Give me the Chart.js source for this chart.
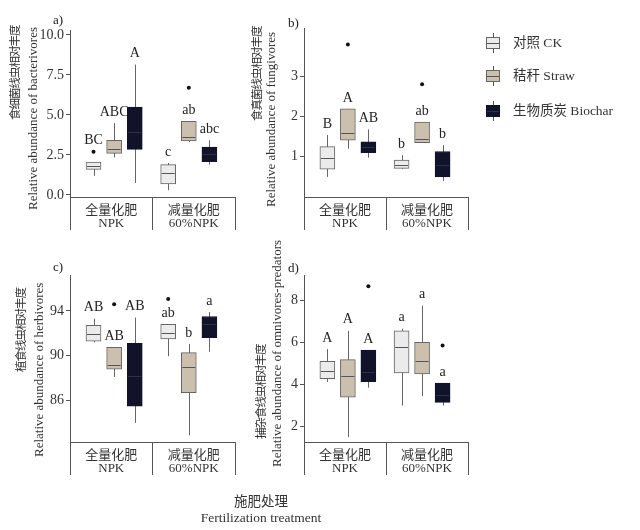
<!DOCTYPE html>
<html>
<head>
<meta charset="utf-8">
<script src="https://cdn.jsdelivr.net/npm/chart.js@4"></script>
<style>
  body { margin: 0; width: 640px; height: 530px; background: #fff; position: relative; overflow: hidden;
         font-family: 'Liberation Serif', 'Noto Sans CJK SC', serif; color: #222; }
  canvas { position: absolute; }
  .tag { position: absolute; font-size: 13px; line-height: 14px; }
  .yt { position: absolute; width: 16px; height: 240px; line-height: 16px; white-space: nowrap; text-align: center;
        writing-mode: vertical-rl; text-orientation: sideways; transform: rotate(180deg); color: #333; }
  .zh { font-size: 11.5px; letter-spacing: -1px; }
  .en { font-size: 13px; }
  .lg { position: absolute; left: 513px; font-size: 13.5px; line-height: 16px; color: #333; }
  .ic { position: absolute; left: 486px; width: 12px; height: 10px; border: 1px solid #666; }
  .ic::before, .ic::after { content: ''; position: absolute; left: 5.5px; width: 1px; height: 4px; background: #555; }
  .ic::before { top: -5px; }
  .ic::after { bottom: -5px; }
  .ic i { position: absolute; left: 0; right: 0; top: 4.5px; height: 1px; background: #555; }
  .bt { position: absolute; left: 160px; width: 202px; text-align: center; font-size: 13.5px; line-height: 15px; color: #333; }
</style>
</head>
<body>

<canvas id="pa" width="245" height="240" style="left:0;top:0"></canvas>
<canvas id="pb" width="240" height="240" style="left:240px;top:0"></canvas>
<canvas id="pc" width="245" height="240" style="left:0;top:240px"></canvas>
<canvas id="pd" width="240" height="240" style="left:240px;top:240px"></canvas>

<div class="tag" style="left:53px;top:13px">a)</div>
<div class="tag" style="left:288px;top:16px">b)</div>
<div class="tag" style="left:53px;top:260px">c)</div>
<div class="tag" style="left:288px;top:261px">d)</div>

<div class="yt zh" style="left:7px;top:-47px">食细菌线虫相对丰度</div>
<div class="yt en" style="left:25px;top:-1px">Relative abundance of bacterivores</div>
<div class="yt zh" style="left:249px;top:-46px">食真菌线虫相对丰度</div>
<div class="yt en" style="left:263px;top:-1px">Relative abundance of fungivores</div>
<div class="yt zh" style="left:13px;top:210px">植食线虫相对丰度</div>
<div class="yt en" style="left:31px;top:250px">Relative abundance of herbivores</div>
<div class="yt zh" style="left:253px;top:272px">捕杂食线虫相对丰度</div>
<div class="yt en" style="left:269px;top:233px">Relative abundance of omnivores-predators</div>

<span class="ic" style="top:37px;background:#ebebeb"><i></i></span>
<div class="lg" style="top:35px">对照 CK</div>
<span class="ic" style="top:70px;background:#cbbfae"><i></i></span>
<div class="lg" style="top:68px">秸秆 Straw</div>
<span class="ic" style="top:105px;background:#11132b;border-color:#11132b"><i style="background:#2c3048"></i></span>
<div class="lg" style="top:103px">生物质炭 Biochar</div>

<div class="bt" style="top:494px">施肥处理</div>
<div class="bt" style="top:510px">Fertilization treatment</div>

<script>
// ------ 数据 ------ //
const groupLabels = [['全量化肥', 'NPK'], ['减量化肥', '60%NPK']];
const seriesNames = ['对照 CK', '秸秆 Straw', '生物质炭 Biochar'];

// each box: [min, q1, median, q3, max] for NPK, 60%NPK
// a) bacterivores
const bactCK      = [[1.2, 1.6, 1.8, 2.05, 2.05], [0.3, 0.7, 1.35, 1.9, 2.0]];
const bactStraw   = [[2.35, 2.6, 2.9, 3.42, 4.5], [3.3, 3.38, 3.62, 4.6, 4.6]];
const bactBiochar = [[0.75, 2.85, 3.95, 5.5, 8.15], [1.9, 2.08, 2.55, 3.0, 3.42]];
const bactOutliers = [[2.7, null], [null, 6.7], [null, null]];
const bactLetters  = [['BC', 'c'], ['ABC', 'ab'], ['A', 'abc']];
const bactTicks = [0, 2.5, 5, 7.5, 10];

// b) fungivores
const fungCK      = [[0.5, 0.69, 0.96, 1.25, 1.54], [0.7, 0.71, 0.8, 0.92, 1.04]];
const fungStraw   = [[1.2, 1.41, 1.58, 2.19, 2.19], [1.35, 1.35, 1.45, 1.86, 1.86]];
const fungBiochar = [[0.98, 1.1, 1.25, 1.37, 1.68], [0.4, 0.5, 0.8, 1.13, 1.29]];
const fungOutliers = [[null, null], [3.79, 2.8], [null, null]];
const fungLetters  = [['B', 'b'], ['A', 'ab'], ['AB', 'b']];
const fungTicks = [1, 2, 3];

// c) herbivores
const herbCK      = [[91.2, 91.3, 91.9, 92.7, 93.3], [89.95, 91.5, 92.05, 92.8, 92.8]];
const herbStraw   = [[88.1, 88.8, 89.2, 90.75, 90.75], [82.9, 86.7, 89.0, 90.27, 91.05]];
const herbBiochar = [[84.0, 85.5, 88.2, 91.1, 93.4], [90.35, 91.6, 92.8, 93.5, 93.9]];
const herbOutliers = [[null, 95.05], [94.6, null], [null, null]];
const herbLetters  = [['AB', 'ab'], ['AB', 'b'], ['AB', 'a']];
const herbTicks = [86, 90, 94];

// d) omnivores-predators
const omniCK      = [[4.12, 4.28, 4.62, 5.1, 5.68], [3.0, 4.55, 5.77, 6.55, 6.65]];
const omniStraw   = [[1.5, 3.4, 4.4, 5.18, 6.55], [3.45, 4.5, 5.13, 6.0, 7.75]];
const omniBiochar = [[3.85, 4.14, 4.6, 5.63, 5.63], [3.0, 3.15, 3.5, 4.07, 4.07]];
const omniOutliers = [[null, null], [null, null], [8.67, 5.85]];
const omniLetters  = [['A', 'a'], ['A', 'a'], ['A', 'a']];
const omniTicks = [2, 4, 6, 8];

//------ styles ------//
const fills   = ['#ebebeb', '#cbbfae', '#11132b'];
const borders = ['#666666', '#666666', '#11132b'];
const medianColors = ['#555555', '#555555', '#2c3048'];
const axisColor = '#555';
const serif = "'Liberation Serif', 'Noto Sans CJK SC', serif";
const groupCenters = [0.535, 1.44];   // x position of each fertilization group
const seriesOffset = [-0.25, 0, 0.25];

//------ whiskers, medians, outliers, letters ------//
const boxExtras = {
  id: 'boxExtras',
  beforeDatasetsDraw(chart) {
    const {ctx} = chart;
    const y = chart.scales.y;
    ctx.save();
    ctx.strokeStyle = '#666';
    ctx.lineWidth = 1;
    chart.data.datasets.forEach((ds, i) => {
      chart.getDatasetMeta(i).data.forEach((bar, j) => {
        const s = ds.stats[j];
        const x = Math.round(bar.x) + 0.5;
        ctx.beginPath();
        ctx.moveTo(x, y.getPixelForValue(s[0]));
        ctx.lineTo(x, y.getPixelForValue(s[4]));
        ctx.stroke();
      });
    });
    ctx.restore();
  },
  afterDatasetsDraw(chart) {
    const {ctx} = chart;
    const y = chart.scales.y;
    ctx.save();
    chart.data.datasets.forEach((ds, i) => {
      chart.getDatasetMeta(i).data.forEach((bar, j) => {
        const s = ds.stats[j];
        const half = bar.width / 2;
        // median
        const ym = Math.round(y.getPixelForValue(s[2])) + 0.5;
        ctx.strokeStyle = medianColors[i];
        ctx.lineWidth = 1;
        ctx.beginPath();
        ctx.moveTo(bar.x - half + 1, ym);
        ctx.lineTo(bar.x + half - 1, ym);
        ctx.stroke();
        // outlier
        const out = ds.outliers[j];
        let base = y.getPixelForValue(s[4]);
        if (out != null) {
          const yo = y.getPixelForValue(out);
          ctx.fillStyle = '#111';
          ctx.beginPath();
          ctx.arc(bar.x, yo, 2, 0, Math.PI * 2);
          ctx.fill();
          if (base - yo < 15) base = yo;
        }
        // significance letter
        ctx.fillStyle = '#222';
        ctx.font = '14px ' + serif;
        ctx.textAlign = 'center';
        ctx.textBaseline = 'middle';
        ctx.fillText(ds.letters[j], bar.x, base - 11);
      });
    });
    ctx.restore();
  }
};

function makePanel(id, series, outliers, letters, yMin, yMax, yTicks, fmt, geo) {
  const datasets = series.map((stats, i) => ({
    label: seriesNames[i],
    data: stats.map((s, j) => ({x: groupCenters[j] + seriesOffset[i], y: [s[1], s[3]]})),
    backgroundColor: fills[i],
    borderColor: borders[i],
    borderWidth: 1,
    borderSkipped: false,
    barThickness: 15,
    grouped: false,
    stats: stats,
    outliers: outliers[i],
    letters: letters[i]
  }));

  return new Chart(document.getElementById(id), {
    type: 'bar',
    data: {datasets},
    plugins: [boxExtras],
    options: {
      responsive: false,
      animation: false,
      layout: {padding: {top: geo.top, right: geo.right, left: 0, bottom: 0}},
      plugins: {legend: {display: false}, tooltip: {enabled: false}},
      scales: {
        x: {
          type: 'linear', min: 0, max: 2, offset: false,
          afterBuildTicks: s => { s.ticks = [0, 0.5, 1, 1.5, 2].map(v => ({value: v})); },
          afterFit: s => { s.height = geo.xHeight; },
          border: {display: true, color: axisColor, width: 1},
          grid: {
            display: true, offset: false, drawOnChartArea: false, drawTicks: true, tickLength: 33,
            tickColor: c => (c.tick && Number.isInteger(c.tick.value)) ? axisColor : 'rgba(0,0,0,0)'
          },
          ticks: {
            autoSkip: false, maxRotation: 0, minRotation: 0, padding: -26, color: '#333',
            font: {family: serif, size: 13, lineHeight: 1.0},
            callback: v => v === 0.5 ? groupLabels[0] : (v === 1.5 ? groupLabels[1] : '')
          }
        },
        y: {
          min: yMin, max: yMax,
          afterBuildTicks: s => { s.ticks = yTicks.map(v => ({value: v})); },
          afterFit: s => { s.width = geo.yWidth; },
          border: {display: true, color: axisColor, width: 1},
          grid: {display: true, drawOnChartArea: false, drawTicks: true, tickLength: 4, tickColor: axisColor},
          ticks: {padding: 2, color: '#333', font: {family: serif, size: 14}, callback: fmt}
        }
      }
    }
  });
}

makePanel('pa', [bactCK, bactStraw, bactBiochar], bactOutliers, bactLetters,
  -0.125, 10.31, bactTicks, v => v.toFixed(1), {top: 30, right: 10, yWidth: 70, xHeight: 43});
makePanel('pb', [fungCK, fungStraw, fungBiochar], fungOutliers, fungLetters,
  0, 4.2, fungTicks, v => String(v), {top: 28, right: 12, yWidth: 64, xHeight: 43});
makePanel('pc', [herbCK, herbStraw, herbBiochar], herbOutliers, herbLetters,
  82.3, 97.2, herbTicks, v => String(v), {top: 35, right: 10, yWidth: 70, xHeight: 38});
makePanel('pd', [omniCK, omniStraw, omniBiochar], omniOutliers, omniLetters,
  1.27, 9.2, omniTicks, v => String(v), {top: 35, right: 12, yWidth: 64, xHeight: 38});
</script>
</body>
</html>
